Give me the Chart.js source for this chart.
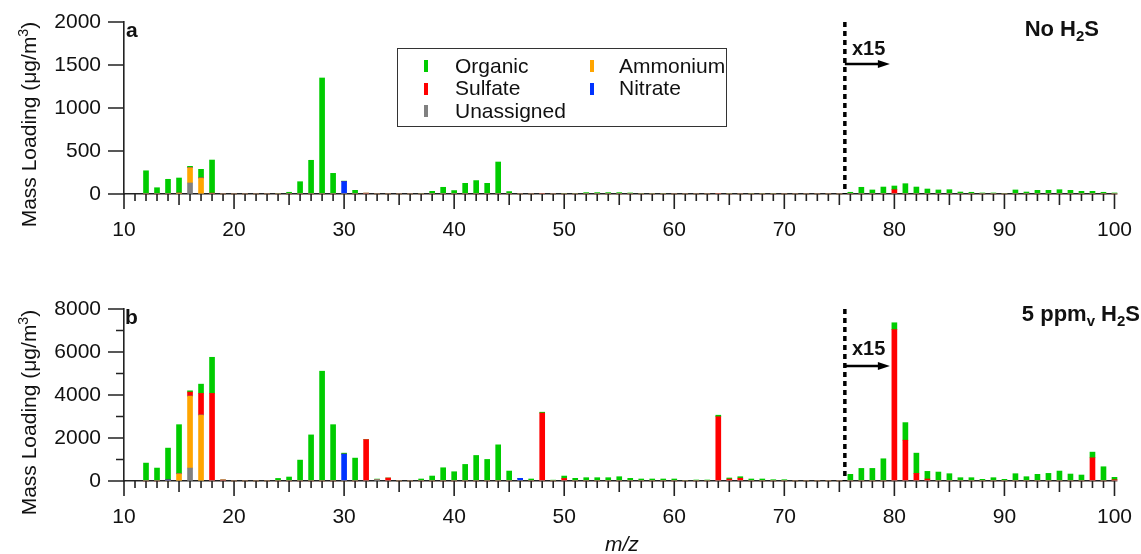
<!DOCTYPE html>
<html><head><meta charset="utf-8">
<script src="https://cdn.jsdelivr.net/npm/chart.js@4.4.1/dist/chart.umd.min.js"></script>
<style>
html,body{margin:0;padding:0;background:#fff;}
#wrap{position:relative;width:1141px;height:554px;overflow:hidden;font-family:'Liberation Sans',Arial,sans-serif;color:#111;}
canvas{position:absolute;left:0;}
.t{position:absolute;white-space:nowrap;line-height:1;}
.b{font-weight:bold;font-size:22px;}
.sub{font-size:0.68em;vertical-align:-0.32em;}
.ytitle{position:absolute;width:260px;text-align:center;font-size:21px;line-height:21px;transform:rotate(-90deg);transform-origin:50% 50%;white-space:nowrap;}
.ytitle sup{font-size:0.68em;vertical-align:0.55em;line-height:0;}
#legend{position:absolute;left:397px;top:48px;width:328px;height:77px;border:1.5px solid #333;}
.li{position:absolute;font-size:21px;line-height:22.5px;white-space:nowrap;}
.mk{position:absolute;width:4px;height:12px;}
</style></head><body>
<div id="wrap">
<canvas id="ca" width="1141" height="270" style="top:0;width:1141px;height:270px"></canvas>
<canvas id="cb" width="1141" height="274" style="top:280px;width:1141px;height:274px"></canvas>
<div class="ytitle" style="left:-102px;top:114px">Mass Loading (μg/m<sup>3</sup>)</div>
<div class="ytitle" style="left:-102px;top:402px">Mass Loading (μg/m<sup>3</sup>)</div>
<div class="t b" style="left:126px;top:19px;font-size:21px">a</div>
<div class="t b" style="left:125px;top:306px;font-size:21px">b</div>
<div class="t b" style="right:42px;top:18px">No H<span class="sub">2</span>S</div>
<div class="t b" style="right:1px;top:303px">5 ppm<span class="sub">v</span> H<span class="sub">2</span>S</div>
<div class="t" style="left:852px;top:38px;font-size:20px;font-weight:bold">x15</div>
<div class="t" style="left:852px;top:338px;font-size:20px;font-weight:bold">x15</div>
<div class="t" style="left:605px;top:533px;font-size:21px;font-style:italic">m/z</div>
<div id="legend"></div>
</div>
<script>
// m/z categories
const mz = [12,13,14,15,16,17,18,19,20,21,
  22,23,24,25,26,27,28,29,30,31,
  32,33,34,35,36,37,38,39,40,41,
  42,43,44,45,46,47,48,49,50,51,
  52,53,54,55,56,57,58,59,60,61,
  62,63,64,65,66,67,68,69,70,71,
  72,73,74,75,76,77,78,79,80,81,
  82,83,84,85,86,87,88,89,90,91,
  92,93,94,95,96,97,98,99,100];

// Panel a: No H2S (values at m/z > 75 shown x15)
const organicA = [270,73,171,176,16,101,385,0,0,0,
  0,0,5,20,143,392,1349,240,5,43,
  0,0,0,0,0,5,31,78,40,124,
  156,124,372,28,0,0,0,0,3,5,
  16,16,16,16,12,8,5,3,0,0,
  0,0,0,5,0,3,5,5,0,0,
  0,0,0,0,20,78,47,81,43,120,
  81,58,47,50,23,20,12,12,3,47,
  23,43,43,50,43,31,31,20,12];
const sulfateA = [0,0,0,0,0,0,10,0,0,0,
  0,0,0,0,0,0,0,0,0,0,
  10,0,0,0,0,0,0,0,0,0,
  0,0,0,0,0,0,8,0,0,0,
  0,0,0,0,0,0,0,0,0,0,
  0,0,8,0,0,0,0,0,0,0,
  0,0,0,0,0,0,0,0,50,0,
  0,0,0,0,0,0,0,0,0,0,
  0,0,0,0,0,0,0,0,0];
const ammoniumA = [0,0,0,10,178,186,0,0,0,0,
  0,0,0,0,0,0,0,0,0,0,
  0,0,0,0,0,0,0,0,0,0,
  0,0,0,0,0,0,0,0,0,0,
  0,0,0,0,0,0,0,0,0,0,
  0,0,0,0,0,0,0,0,0,0,
  0,0,0,0,0,0,0,0,0,0,
  0,0,0,0,0,0,0,0,0,0,
  0,0,0,0,0,0,0,0,0];
const nitrateA = [0,0,0,0,0,0,0,0,0,0,
  0,0,0,0,0,0,0,0,145,0,
  0,0,0,0,0,0,0,0,0,0,
  0,0,0,0,0,0,0,0,0,0,
  0,0,0,0,0,0,0,0,0,0,
  0,0,0,0,0,0,0,0,0,0,
  0,0,0,0,0,0,0,0,0,0,
  0,0,0,0,0,0,0,0,0,0,
  0,0,0,0,0,0,0,0,0];
const unassignedA = [0,0,0,0,128,0,0,0,0,0,
  0,0,0,0,0,0,0,0,0,0,
  0,0,0,0,0,0,0,0,0,0,
  0,0,0,0,0,0,0,0,0,0,
  0,0,0,0,0,0,0,0,0,0,
  0,0,0,0,0,0,0,0,0,0,
  0,0,0,0,0,0,0,0,0,0,
  0,0,0,0,0,0,0,0,0,0,
  0,0,0,0,0,0,0,0,0];

// Panel b: 5 ppmv H2S (values at m/z > 75 shown x15)
const organicB = [833,602,1480,2282,60,431,1680,0,0,0,
  0,0,120,185,972,2144,5107,2620,46,1065,
  0,30,0,0,0,93,231,616,431,771,
  1188,1003,1682,463,0,93,40,40,110,124,
  154,154,154,200,124,93,93,93,93,20,
  46,46,70,50,70,93,93,60,60,0,
  0,0,0,0,309,586,586,1034,320,818,
  941,355,417,340,154,154,77,154,77,340,
  200,309,355,463,324,278,263,663,110];
const sulfateB = [0,0,0,0,185,1004,4074,50,0,0,
  0,0,0,0,0,0,0,0,0,0,
  1926,0,140,0,0,0,0,0,0,0,
  0,0,0,0,0,0,3160,0,120,0,
  0,0,0,0,0,0,0,0,0,0,
  0,0,2990,90,130,0,0,0,0,0,
  0,0,0,0,0,0,0,0,7040,1898,
  355,93,0,0,0,0,0,0,0,0,
  0,0,0,0,0,0,1080,0,60];
const ammoniumB = [0,0,0,338,3348,3070,0,0,0,0,
  0,0,0,0,0,0,0,0,0,0,
  0,0,0,0,0,0,0,0,0,0,
  0,0,0,0,0,0,0,0,0,0,
  0,0,0,0,0,0,0,0,0,0,
  0,0,0,0,0,0,0,0,0,0,
  0,0,0,0,0,0,0,0,0,0,
  0,0,0,0,0,0,0,0,0,0,
  0,0,0,0,0,0,0,0,0];
const nitrateB = [0,0,50,0,0,0,0,0,0,0,
  0,0,0,0,0,0,0,0,1250,0,
  0,0,0,0,0,0,0,0,0,0,
  0,0,0,0,124,0,0,0,0,0,
  0,0,0,0,0,0,0,0,0,0,
  0,0,0,0,0,0,0,0,0,0,
  0,0,0,0,0,0,0,0,0,0,
  0,0,0,0,0,0,0,0,0,0,
  0,0,0,0,0,0,0,0,0];
const unassignedB = [0,0,0,0,602,0,0,0,0,0,
  0,0,0,0,0,0,0,0,0,0,
  0,60,0,0,0,0,0,0,0,0,
  0,0,0,0,0,0,0,0,0,0,
  0,0,0,0,0,0,0,0,0,0,
  0,0,0,0,0,0,0,0,0,0,
  0,0,0,0,0,0,0,0,0,0,
  0,0,0,0,0,0,0,0,0,0,
  0,0,0,0,0,0,0,0,0];

const seriesNames = ['Unassigned','Ammonium','Nitrate','Sulfate','Organic'];
const colors = {Organic:'#00CC00', Sulfate:'#FF0000', Ammonium:'#FFA500', Nitrate:'#0033FF', Unassigned:'#808080'};
const xTickLabels = [10,20,30,40,50,60,70,80,90,100];
const breakMz = 75.5;

Chart.defaults.font.family = "'Liberation Sans', Arial, sans-serif";
Chart.defaults.font.size = 21;
Chart.defaults.color = '#111';

const axisPlugin = {
  id: 'axisDeco',
  afterDraw(chart, args, o) {
    const ctx = chart.ctx, xs = chart.scales.x, ys = chart.scales.y, ca = chart.chartArea;
    ctx.save();
    ctx.strokeStyle = '#222';
    ctx.lineWidth = 1.6;
    ctx.beginPath();
    for (let v = xs.min; v <= xs.max; v++) {
      const px = xs.getPixelForValue(v);
      const len = v % 10 === 0 ? 15 : (v % 5 === 0 ? 11 : 7);
      ctx.moveTo(px, ca.bottom); ctx.lineTo(px, ca.bottom + len);
    }
    for (let v = ys.min; v <= ys.max; v += o.yMinor) {
      const py = ys.getPixelForValue(v);
      const len = v % o.yMajor === 0 ? 16 : 8;
      ctx.moveTo(ca.left - len, py); ctx.lineTo(ca.left, py);
    }
    ctx.stroke();
    // break line
    const lx = xs.getPixelForValue(breakMz);
    ctx.strokeStyle = '#000';
    ctx.lineWidth = 3.5;
    ctx.setLineDash([5, 4]);
    ctx.beginPath(); ctx.moveTo(lx, ca.top); ctx.lineTo(lx, ca.bottom); ctx.stroke();
    ctx.setLineDash([]);
    // arrow
    const ay = ca.top + o.arrowDy;
    ctx.lineWidth = 2.5;
    ctx.beginPath(); ctx.moveTo(lx, ay); ctx.lineTo(lx + 36, ay); ctx.stroke();
    ctx.fillStyle = '#000';
    ctx.beginPath(); ctx.moveTo(lx + 45, ay); ctx.lineTo(lx + 33, ay - 4); ctx.lineTo(lx + 33, ay + 4); ctx.closePath(); ctx.fill();
    ctx.restore();
  }
};

function makeChart(id, series, yMax, yStep, yMinor, padTop, xH, arrowDy) {
  const datasets = seriesNames.map(n => ({
    label: n, data: series[n], backgroundColor: colors[n], borderWidth: 0,
    barThickness: 5, clip: false
  }));
  return new Chart(document.getElementById(id), {
    type: 'bar',
    data: { labels: mz, datasets },
    plugins: [axisPlugin],
    options: {
      responsive: false, animation: false, devicePixelRatio: 1,
      layout: { padding: { left: 0, right: 21, top: padTop, bottom: 0 } },
      plugins: { legend: { display: false }, tooltip: { enabled: false },
        axisDeco: { yMinor, yMajor: yStep, arrowDy } },
      scales: {
        x: {
          type: 'linear', stacked: true, min: 10, max: 100, offset: false,
          afterFit: s => { s.height = xH; },
          afterBuildTicks: s => { s.ticks = xTickLabels.map(v => ({ value: v })); },
          grid: { display: true, offset: false, drawOnChartArea: false, drawTicks: true, tickLength: 15, color: 'rgba(0,0,0,0)' },
          border: { display: true, color: '#222', width: 1.6 },
          ticks: { padding: 9, maxRotation: 0, autoSkip: false, color: '#111', font: { size: 21 }, callback: v => String(v) }
        },
        y: {
          stacked: true, min: 0, max: yMax,
          afterFit: s => { s.width = 124; },
          grid: { display: true, drawOnChartArea: false, drawTicks: true, tickLength: 16, color: 'rgba(0,0,0,0)' },
          border: { display: true, color: '#222', width: 1.6 },
          ticks: { stepSize: yStep, padding: 7, color: '#111', font: { size: 21 }, callback: v => String(v) }
        }
      }
    }
  });
}

makeChart('ca', { Organic: organicA, Sulfate: sulfateA, Ammonium: ammoniumA, Nitrate: nitrateA, Unassigned: unassignedA },
  2000, 500, 500, 22, 76, 42);
makeChart('cb', { Organic: organicB, Sulfate: sulfateB, Ammonium: ammoniumB, Nitrate: nitrateB, Unassigned: unassignedB },
  8000, 2000, 1000, 29, 73, 57);

// legend (HTML) built from series names
const legendLayout = [['Organic', 423, 454, 0], ['Sulfate', 423, 454, 1], ['Unassigned', 423, 454, 2], ['Ammonium', 589, 618, 0], ['Nitrate', 589, 618, 1]];
const lg = document.getElementById('legend');
legendLayout.forEach(([name, mx, tx, row]) => {
  const cy = 17 + row * 22.5;
  const m = document.createElement('div');
  m.className = 'mk'; m.style.left = (mx - 397) + 'px'; m.style.top = (cy - 6) + 'px'; m.style.background = colors[name];
  lg.appendChild(m);
  const t = document.createElement('div');
  t.className = 'li'; t.textContent = name; t.style.left = (tx - 397) + 'px'; t.style.top = (cy - 11.25) + 'px';
  lg.appendChild(t);
});
</script>
</body></html>
